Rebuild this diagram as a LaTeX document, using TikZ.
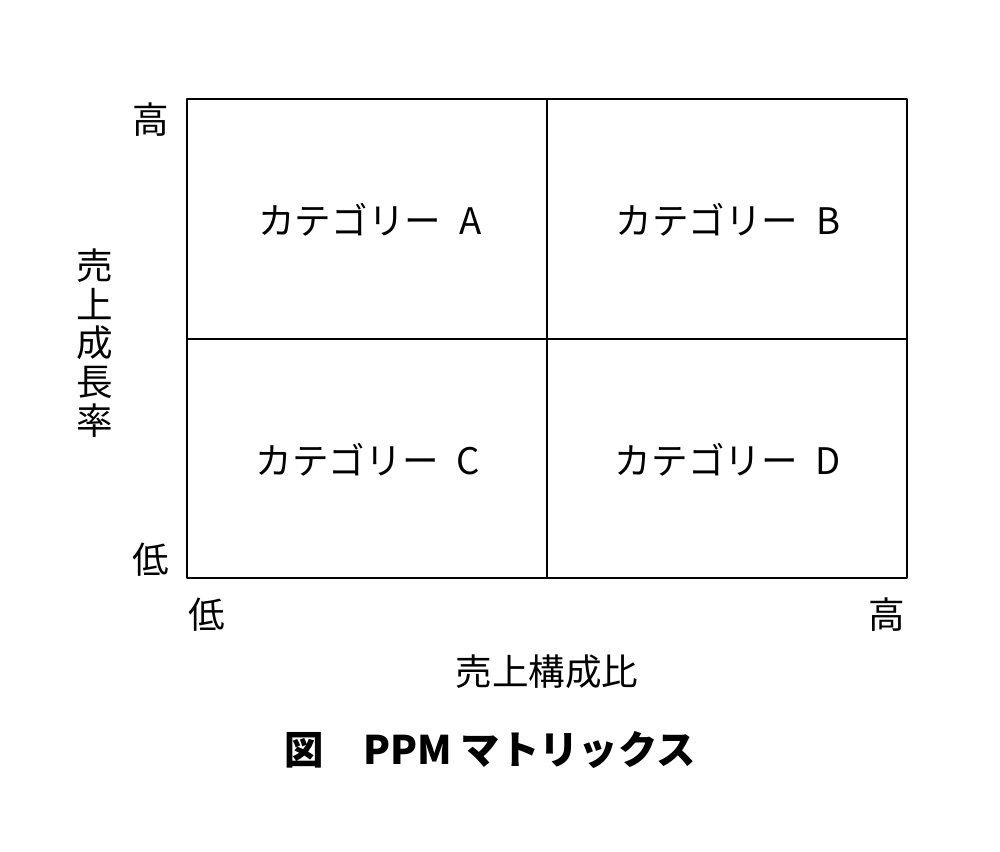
\documentclass[tikz,border=0pt]{standalone}
\usepackage{fontspec}
\setmainfont{Noto Sans CJK JP}
\usetikzlibrary{calc}

\begin{document}
\begin{tikzpicture}[line cap=round,line join=round,x=0.025cm,y=-0.025cm]
    \useasboundingbox (0,0) rectangle (1000,852);
    \tikzset{
        cell/.style={font=\fontsize{26}{26}\selectfont, inner sep=0pt},
        axis/.style={font=\fontsize{26}{27.5}\selectfont, inner sep=0pt},
        caption/.style={font=\fontsize{28}{28}\selectfont\bfseries, inner sep=0pt}
    }

    % Matrix
    \coordinate (NW) at (187,99);
    \coordinate (SE) at (907,578);
    \coordinate (M) at (547,339);
    \draw[line width=0.8pt] (NW) rectangle (SE);
    \draw[line width=0.8pt] (NW -| M) -- (SE -| M);
    \draw[line width=0.8pt] (NW |- M) -- (SE |- M);

    % Categories
    \draw (370,220) node[cell] (A) {カテゴリー\hspace{0.5em}A};
    \draw (728,220) node[cell] (B) {カテゴリー\hspace{0.5em}B};
    \draw (368,460) node[cell] (C) {カテゴリー\hspace{0.5em}C};
    \draw (728,460) node[cell] (D) {カテゴリー\hspace{0.5em}D};

    % Vertical axis
    \draw (151,120) node[axis] (yhigh) {高};
    \draw (151,560) node[axis] (ylow) {低};
    \draw (95,343) node[axis, align=center] (ylabel) {売\\上\\成\\長\\率};

    % Horizontal axis
    \draw (207,615) node[axis] (xlow) {低};
    \draw (887,615) node[axis] (xhigh) {高};
    \draw (547,672) node[axis] (xlabel) {売上構成比};

    % Caption
    \draw (490,750) node[caption] (title) {図　PPM マトリックス};
\end{tikzpicture}
\end{document}
